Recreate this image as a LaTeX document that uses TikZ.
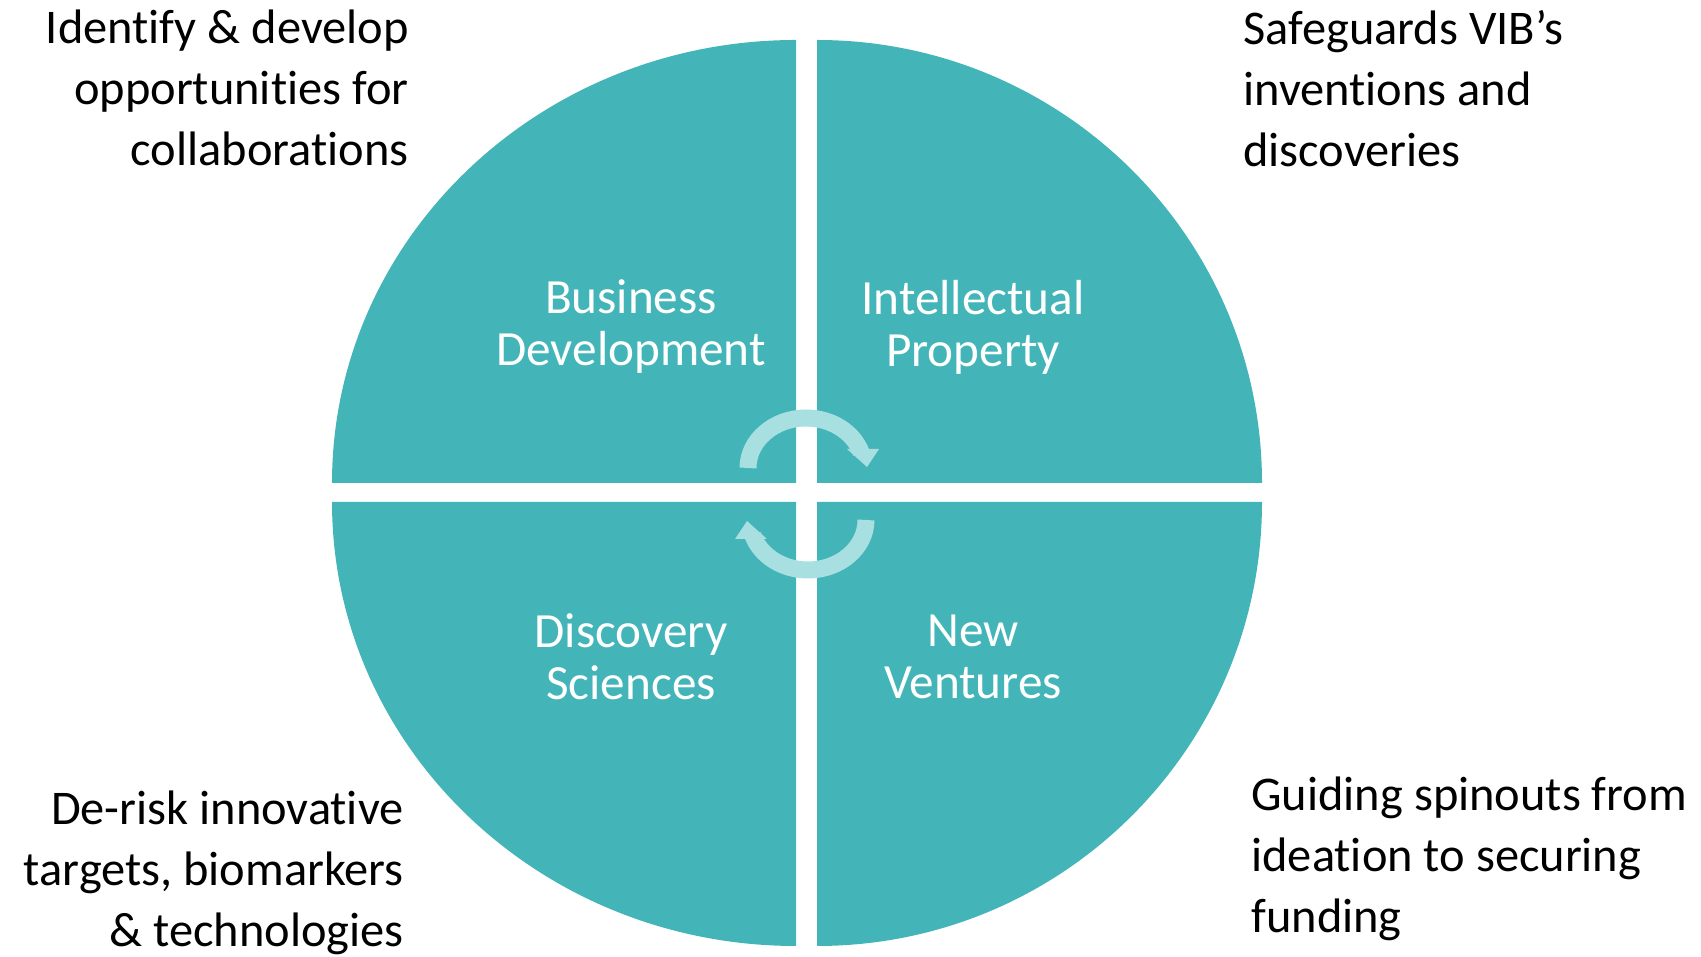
\documentclass[tikz,border=0pt]{standalone}
\usepackage{fontspec}
\setmainfont{Carlito}[Ligatures=NoCommon]
\definecolor{quadteal}{RGB}{67,181,185}
\definecolor{arrowteal}{RGB}{168,223,224}
\begin{document}
\begin{tikzpicture}[x=0.5pt,y=0.5pt,
  quad/.style={fill=quadteal},
  cyc/.style={draw=arrowteal,line width=8.5pt},
  cychead/.style={fill=arrowteal},
  outertext/.style={inner sep=0pt,font=\fontsize{24.2}{30.5}\selectfont,text=black},
  innertext/.style={inner sep=0pt,font=\fontsize{24.6}{26}\selectfont,text=white,align=center}]
\useasboundingbox (0,0) rectangle (1701,957);
% quadrants
\fill[quad] (796,474) -- (332,474) arc[start angle=180,end angle=90,x radius=464,y radius=443] -- cycle;
\fill[quad] (817,474) -- (817,917) arc[start angle=90,end angle=0,x radius=445,y radius=443] -- cycle;
\fill[quad] (796,455) -- (332,455) arc[start angle=180,end angle=270,x radius=464,y radius=444] -- cycle;
\fill[quad] (817,455) -- (1262,455) arc[start angle=0,end angle=-90,x radius=445,y radius=444] -- cycle;
% cycle arrows
\draw[cyc] (748,489) arc[start angle=180,end angle=18,x radius=58,y radius=50];
\fill[cychead] (847,508) -- (879,508) -- (867,490) -- cycle;
\draw[cyc] (866,437) arc[start angle=0,end angle=-162,x radius=58,y radius=50];
\fill[cychead] (767,418) -- (735,418) -- (747,436) -- cycle;
% outer texts
\node[outertext,align=right,anchor=north east] (tl) at (409,947) {Identify \& develop\\opportunities for\\collaborations};
\node[outertext,align=left,anchor=north west] (tr) at (1243,947) {Safeguards VIB’s\\inventions and\\discoveries};
\node[outertext,align=right,anchor=north east] (bl) at (404,167) {De-risk innovative\\targets, biomarkers\\\& technologies};
\node[outertext,align=left,anchor=north west] (br) at (1251,181) {Guiding spinouts from\\ideation to securing\\funding};
% inner labels
\node[innertext] (bd) at (631,630) {Business\\Development};
\node[innertext] (ip) at (973,630) {Intellectual\\Property};
\node[innertext] (ds) at (631,300) {Discovery\\Sciences};
\node[innertext] (nv) at (973,300) {New\\Ventures};
\end{tikzpicture}
\end{document}
